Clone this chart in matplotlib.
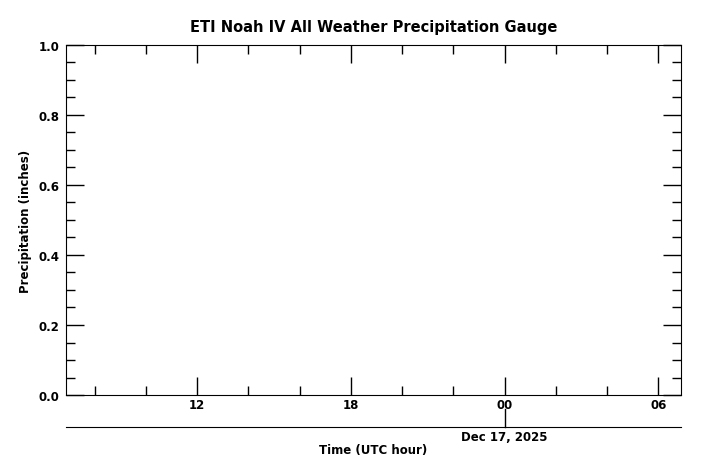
"""ETI Noah IV precipitation gauge plot (no data in window)"""

from datetime import datetime, timedelta

import matplotlib
matplotlib.use('Agg')
import matplotlib.pyplot as plt
import matplotlib.dates as mdates

# Window and (empty) data
window_end = datetime(2025, 12, 17, 6, 53)
window_start = window_end - timedelta(hours=24)
times = []
precip = []
y_range = [0.0, 1.0]
date_tick = [datetime(2025, 12, 17, 0, 0)]
date_label = ['Dec 17, 2025']

plt.rcParams['font.family'] = 'DejaVu Sans'
plt.rcParams['font.weight'] = 'bold'

fig = plt.figure(figsize=(7.03, 4.77), dpi=100)
ax = fig.add_axes([0.0939, 0.1698, 0.8748, 0.7338])

ax.plot(times, precip, color='blue')
ax.set_xlim(window_start, window_end)
ax.set_ylim(*y_range)

# Hour ticks: major every 6 h, minor every 2 h
ax.xaxis.set_major_locator(mdates.HourLocator(byhour=range(0, 24, 6)))
ax.xaxis.set_minor_locator(mdates.HourLocator(byhour=range(0, 24, 2)))
ax.xaxis.set_major_formatter(mdates.DateFormatter('%H'))
ax.yaxis.set_major_locator(plt.MultipleLocator(0.2))
ax.yaxis.set_minor_locator(plt.MultipleLocator(0.05))
ax.yaxis.set_major_formatter(plt.FormatStrFormatter('%.1f'))

ax.tick_params(which='both', direction='in', top=True, right=True,
               width=1, labelsize=8.5)
ax.tick_params(which='major', length=13)
ax.tick_params(which='minor', length=6.5)
ax.tick_params(axis='x', which='major', pad=2.5)
ax.tick_params(axis='y', which='major', pad=4.5)
for lab in ax.get_xticklabels() + ax.get_yticklabels():
    lab.set_fontweight('bold')

ax.set_title('ETI Noah IV All Weather Precipitation Gauge',
             fontsize=10.5, fontweight='bold', pad=10)
ax.set_ylabel('Precipitation (inches)', fontsize=8.5, fontweight='bold', labelpad=5)

# Secondary date axis below
sec = ax.secondary_xaxis(-0.0914)
sec.set_xticks(date_tick)
sec.set_xticklabels(date_label, fontsize=8.5, fontweight='bold')
sec.tick_params(direction='out', length=0, pad=2.5)
sec.xaxis.set_minor_locator(plt.NullLocator())
sec.set_xlabel('Time (UTC hour)', fontsize=8.5, fontweight='bold', labelpad=0)
# upward tick mark at the date boundary
ax.plot([date_tick[0], date_tick[0]], [-0.0914, -0.0914 + 0.0514],
        transform=ax.get_xaxis_transform(), color='black', lw=1, clip_on=False)

fig.savefig('out.png', dpi=100)
